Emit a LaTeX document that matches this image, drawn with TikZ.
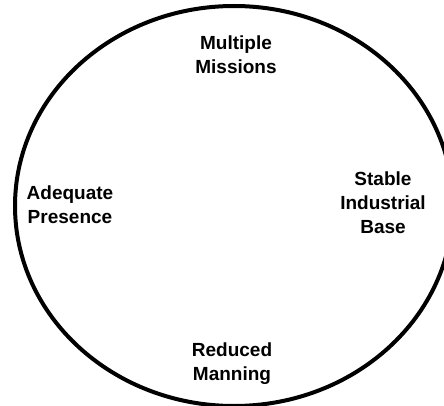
\documentclass[tikz,border=0pt]{standalone}
\usepackage{fontspec}
\setmainfont{Liberation Sans}
\usetikzlibrary{positioning}

\tikzset{
	goal/.style={align=center, font=\fontsize{19}{24}\selectfont\bfseries, inner sep=0pt}
}

\begin{document}
\begin{tikzpicture}[x=1pt,y=-1pt]
		\useasboundingbox (0,0) rectangle (444,406);

		\draw[line width=4pt] (234,206) ellipse [x radius=219pt, y radius=200pt];

		\node[goal] (missions)	at (236,55)		{Multiple\\Missions};
		\node[goal] (presence)	at (70,205)		{Adequate\\Presence};
		\node[goal] (base)		at (383,203)	{Stable\\Industrial\\Base};
		\node[goal] (manning)	at (232,364)	{Reduced\\Manning};
	\end{tikzpicture}
\end{document}
